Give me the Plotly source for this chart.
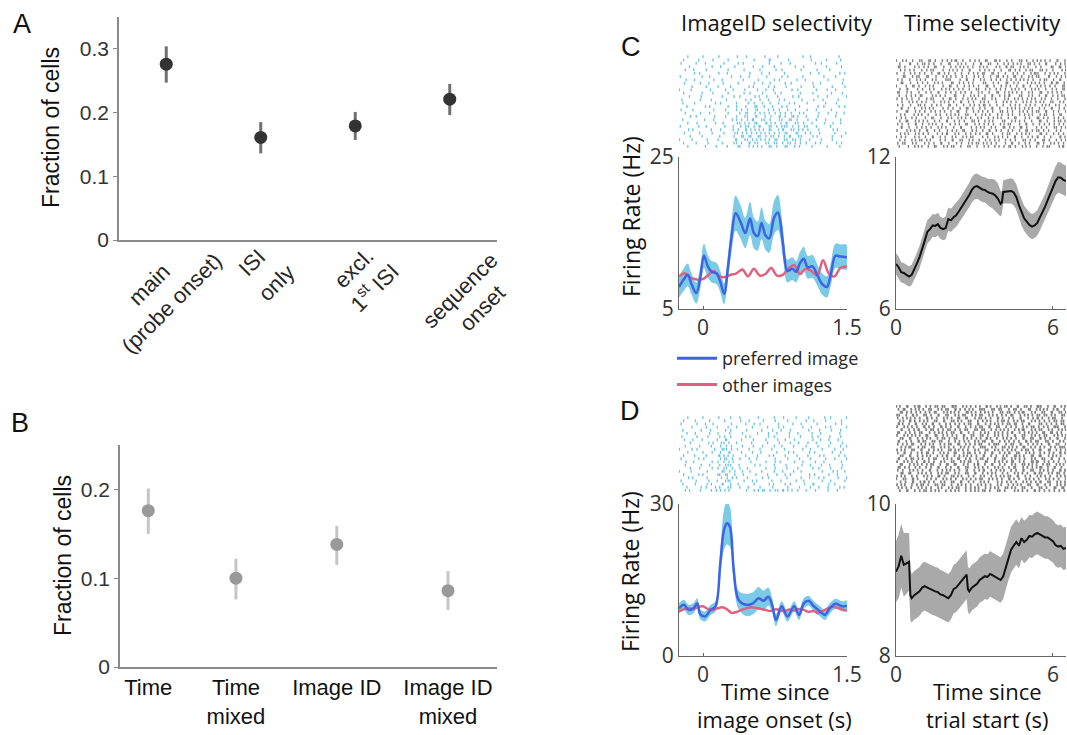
import plotly.graph_objects as go

W, H = 1067, 735

# ---------------- Panel A data ----------------
a_labels = ["main<br>(probe onset)", "ISI<br>only", "excl.<br>1<sup>st</sup> ISI", "sequence<br>onset"]
a_x = [1, 2, 3, 4]
a_val = [0.276, 0.161, 0.179, 0.221]
a_hi = [0.304, 0.185, 0.201, 0.245]
a_lo = [0.247, 0.136, 0.157, 0.196]

# ---------------- Panel B data ----------------
b_labels = ["Time", "Time<br>mixed", "Image ID", "Image ID<br>mixed"]
b_x = [0.80, 1.73, 2.80, 3.98]
b_val = [0.176, 0.100, 0.138, 0.086]
b_hi = [0.201, 0.122, 0.159, 0.108]
b_lo = [0.150, 0.076, 0.115, 0.064]

# ---------------- Panel C, image selectivity ----------------
c_pref_t = [-0.25, -0.2, -0.16, -0.12, -0.07, -0.03, 0.01, 0.05, 0.09, 0.14, 0.18, 0.22, 0.26, 0.30,
            0.34, 0.39, 0.44, 0.49, 0.53, 0.57, 0.61, 0.65, 0.69, 0.74, 0.78, 0.83, 0.88, 0.93, 0.97,
            1.01, 1.05, 1.09, 1.14, 1.19, 1.24, 1.29, 1.33, 1.38, 1.43, 1.5]
c_pref_v = [7.9, 8.9, 9.5, 8.3, 7.1, 9.0, 12.0, 10.6, 9.9, 9.7, 8.6, 7.0, 10.5, 14.8,
            17.6, 16.5, 15.0, 16.9, 15.0, 14.6, 16.3, 14.7, 14.3, 17.0, 17.7, 14.0, 10.0, 10.3, 9.9,
            11.0, 11.6, 10.5, 10.6, 9.5, 8.3, 7.9, 9.5, 12.0, 11.9, 11.8]
c_pref_sem = [1.4, 1.5, 1.5, 1.4, 1.4, 1.5, 1.6, 1.5, 1.4, 1.4, 1.4, 1.4, 1.6, 2.0,
              2.3, 2.2, 2.0, 2.2, 2.0, 1.9, 2.1, 1.9, 1.9, 2.2, 2.3, 2.0, 1.5, 1.5, 1.4,
              1.5, 1.6, 1.5, 1.5, 1.4, 1.4, 1.4, 1.5, 1.6, 1.6, 1.6]
c_other_t = [-0.25, -0.19, -0.13, -0.07, -0.01, 0.05, 0.11, 0.17, 0.23, 0.29, 0.35, 0.41, 0.47, 0.53,
             0.59, 0.65, 0.71, 0.77, 0.83, 0.89, 0.95, 1.01, 1.07, 1.13, 1.19, 1.25, 1.31, 1.37, 1.43, 1.5]
c_other_v = [9.3, 9.7, 9.1, 8.9, 8.9, 9.4, 10.0, 9.3, 9.2, 9.5, 9.7, 10.2, 9.3, 10.3,
             9.4, 9.6, 10.4, 9.4, 9.5, 10.3, 10.8, 9.6, 10.3, 10.0, 9.4, 11.4, 9.7, 9.3, 10.4, 10.6]

# ---------------- Panel C, time selectivity ----------------
c_time_t = [0, 0.1, 0.2, 0.3, 0.4, 0.5, 0.6, 0.7, 0.8, 0.9, 1.0, 1.1, 1.2, 1.3, 1.4, 1.5, 1.6, 1.7, 1.8,
            1.9, 2.0, 2.1, 2.2, 2.3, 2.4, 2.5, 2.6, 2.7, 2.8, 2.9, 3.0, 3.1, 3.2, 3.3, 3.4, 3.5, 3.6,
            3.7, 3.8, 3.9, 4.0, 4.05, 4.1, 4.2, 4.3, 4.4, 4.5, 4.6, 4.7, 4.8, 4.9, 5.0, 5.1, 5.2, 5.3,
            5.4, 5.5, 5.6, 5.7, 5.8, 5.9, 6.0, 6.1, 6.2, 6.3, 6.4, 6.5]
c_time_v = [7.78, 7.65, 7.45, 7.42, 7.35, 7.28, 7.35, 7.55, 7.8, 8.05, 8.35, 8.7, 9.05, 9.15, 9.3, 9.28,
            9.35, 9.2, 9.15, 9.2, 9.55, 9.5, 9.62, 9.7, 9.85, 10.0, 10.15, 10.35, 10.5, 10.7, 10.82,
            10.85, 10.78, 10.72, 10.7, 10.62, 10.58, 10.55, 10.48, 10.35, 10.15, 10.2, 10.62, 10.63,
            10.66, 10.66, 10.6, 10.42, 10.1, 9.8, 9.58, 9.45, 9.32, 9.25, 9.3, 9.4, 9.6, 9.8, 10.04,
            10.3, 10.55, 10.83, 11.05, 11.2, 11.18, 11.1, 11.05]
c_time_sem = [0.42, 0.42, 0.4, 0.4, 0.4, 0.4, 0.4, 0.42, 0.42, 0.44, 0.45, 0.46, 0.46, 0.46, 0.45,
              0.45, 0.45, 0.44, 0.44, 0.45, 0.46, 0.46, 0.46, 0.46, 0.47, 0.47, 0.48, 0.48, 0.48,
              0.5, 0.5, 0.5, 0.5, 0.5, 0.5, 0.52, 0.55, 0.58, 0.6, 0.6, 0.5, 0.45, 0.46, 0.48, 0.5,
              0.5, 0.5, 0.5, 0.5, 0.5, 0.5, 0.5, 0.5, 0.5, 0.5, 0.5, 0.5, 0.5, 0.5, 0.52, 0.54,
              0.56, 0.58, 0.6, 0.6, 0.6, 0.6]

# ---------------- Panel D, image selectivity ----------------
d_pref_t = [-0.25, -0.2, -0.15, -0.1, -0.06, -0.03, 0.02, 0.08, 0.13, 0.18, 0.22, 0.25, 0.28, 0.32,
            0.37, 0.45, 0.52, 0.58, 0.63, 0.68, 0.72, 0.76, 0.82, 0.88, 0.95, 1.0, 1.05, 1.1, 1.15,
            1.22, 1.27, 1.32, 1.38, 1.45, 1.5]
d_pref_v = [9.4, 10.1, 9.1, 9.4, 10.4, 8.3, 7.8, 9.1, 9.8, 18.3, 25.0, 26.2, 25.5, 17.0,
            11.1, 10.1, 10.4, 11.4, 10.9, 11.7, 10.1, 7.1, 9.8, 7.8, 9.8, 8.1, 10.4, 10.9, 9.9,
            8.8, 8.1, 9.4, 10.3, 9.8, 9.9]
d_pref_sem = [1.0, 1.0, 1.0, 1.0, 1.0, 1.0, 1.0, 1.0, 1.0, 2.5, 4.0, 4.2, 4.0, 2.5,
              1.8, 2.2, 2.2, 2.2, 2.0, 1.8, 1.4, 1.2, 1.0, 1.0, 1.0, 1.0, 1.0, 1.0, 1.0,
              1.0, 1.0, 1.0, 1.0, 1.0, 1.0]
d_other_t = [-0.25, -0.2, -0.15, -0.1, -0.05, 0.0, 0.05, 0.1, 0.15, 0.2, 0.25, 0.3, 0.35, 0.4, 0.45,
             0.5, 0.55, 0.6, 0.65, 0.7, 0.75, 0.8, 0.85, 0.9, 0.95, 1.0, 1.05, 1.1, 1.15, 1.2, 1.25,
             1.3, 1.35, 1.4, 1.45, 1.5]
d_other_v = [8.8, 9.2, 9.4, 9.3, 9.7, 9.8, 9.3, 9.1, 9.4, 9.6, 9.2, 8.5, 8.7, 9.1, 9.4,
             9.6, 9.5, 9.3, 9.1, 8.9, 9.2, 9.1, 8.8, 9.2, 9.0, 9.3, 9.1, 8.7, 8.9, 8.5, 8.9,
             9.4, 9.7, 9.5, 9.2, 9.0]

# ---------------- Panel D, time selectivity ----------------
d_time_t = [0, 0.1, 0.2, 0.3, 0.4, 0.5, 0.55, 0.6, 0.7, 0.8, 0.9, 1.0, 1.1, 1.2, 1.3, 1.4, 1.5, 1.6,
            1.7, 1.8, 1.9, 2.0, 2.1, 2.2, 2.3, 2.4, 2.5, 2.6, 2.7, 2.75, 2.8, 2.9, 3.0, 3.1, 3.2, 3.3,
            3.4, 3.5, 3.6, 3.7, 3.8, 3.9, 4.0, 4.1, 4.2, 4.3, 4.4, 4.5, 4.6, 4.7, 4.8, 4.9, 5.0,
            5.1, 5.2, 5.3, 5.4, 5.5, 5.6, 5.7, 5.8, 5.9, 6.0, 6.1, 6.2, 6.3, 6.4, 6.5]
d_time_v = [9.11, 9.18, 9.32, 9.2, 9.22, 9.24, 8.8, 8.76, 8.8, 8.82, 8.85, 8.9, 8.92, 8.9, 8.88,
            8.86, 8.85, 8.84, 8.81, 8.8, 8.78, 8.76, 8.8, 8.88, 8.9, 8.94, 8.98, 9.02, 9.07, 8.88,
            8.85, 8.9, 8.92, 8.95, 9.0, 9.02, 9.05, 9.04, 9.08, 9.06, 9.04, 9.02, 9.0, 9.05, 9.16,
            9.3, 9.4, 9.45, 9.5, 9.45, 9.55, 9.5, 9.53, 9.58, 9.57, 9.6, 9.62, 9.6, 9.58, 9.56,
            9.56, 9.53, 9.51, 9.46, 9.44, 9.45, 9.41, 9.42]
d_time_sem = [0.4, 0.42, 0.42, 0.42, 0.4, 0.38, 0.34, 0.32, 0.32, 0.32, 0.32, 0.32, 0.32, 0.32,
              0.32, 0.32, 0.32, 0.32, 0.32, 0.32, 0.32, 0.32, 0.32, 0.32, 0.32, 0.32, 0.32, 0.32,
              0.32, 0.3, 0.3, 0.3, 0.3, 0.3, 0.3, 0.3, 0.3, 0.3, 0.3, 0.3, 0.3, 0.3, 0.3, 0.3, 0.3,
              0.3, 0.3, 0.3, 0.3, 0.3, 0.28, 0.28, 0.28, 0.28, 0.28, 0.28, 0.28, 0.28, 0.28, 0.28,
              0.28, 0.28, 0.28, 0.28, 0.28, 0.28, 0.28, 0.28]

# ---------------- Spike rasters ----------------
# one string per trial; each character is a time bin: '.' = no spike,
# '1'..'4' = spike in the 1st..4th quarter of that bin (spaces only group bins)
c_img_raster = [
    "..3....1.. .4.....2.. 1....3...2 ......4..1 .......3..",
    ".2...4.... 1...3..... ..2...41.. ..3......2 ...4....1.",
    "3....1.4.. ...2...3.1 ......4... 2..1...... 3.2...4...",
    "...1.....4 ..2...3... ..1.4...2. ....3..1.. ...4....2.",
    ".4..2...1. ....3....2 ....1...4. 3.....2... .1..4.....",
    "....3.1... .4..2..... .1..3.4... .2.......1 .3.....4.2",
    "2.....4..1 .....3..2. 4.....1... 3.2...4... ...1..3...",
    "..1.3..... 2.4......1 ...3....24 .....1.3.. ....2...4.",
    ".3....2.4. ...1...3.. ..2.4..1.. .3.2.....4 ..1.....3.",
    "...4....1. .3...2.... 4.1...3.2. .4....2... 1....3...2",
    "1..3.....2 ...4..1..3 ...2.4..1. ...3.2.... 4...1.3...",
    ".2....4... 1...3....2 .1..4...3. 2.....1..4 .....2..3.",
    "...1..3... ..4...2.1. ..34..1..2 ...4.3.... .2..1....4",
    "4.....2..3 ....1....4 .2..1.3..4 .2....3... 1.4....2..",
    ".1..3..... 4.2....1.. 3.2.4..1.3 ..4.2...1. ...3..4...",
    "..2....4.1 ....3..1.4 ..31.2.4.. 3.1..4.... .2.1...3.2",
    "3...1..... 2..4...13. 2.42..3.14 ..2.3...1. 4....2....",
    ".4....2..1 ....3...14 2.3.124.3. 13.2.4.1.. .3..2.4..1",
    "...2.1.... 3..4...1.3 2.41.3.2.4 13.312.4.. .2....3...",
    ".1.....3.. 2....4.13. 241.32.1.4 3.42.1..2. 4..3....1.",
    "..3..2.... 4..1...213 4.31.4123. 241.32.1.3 ...2.4..1.",
    "2....4..1. ...3..1.24 3.241.42.1 3214.3.21. 4....1....",
    "..4.1....3 ..2...13.4 1234.142.3 41.2134.2. .3...4.1..",
    ".3....1..4 ...2..324. 13.1234.24 .31.42.3.1 .4....2..3",
    "...2..4... ..1...2.31 42.314.213 .241.32..4 .1...3..2.",
    "1..4....2. .3....41.3 24.1234.31 .2143.1.4. ..2..3....",
    ".2...1..3. ..4...213. 4132.43.21 4.213.14.. 3.1...4.2.",
    "..3....4.. .1..2..31. 4.123.42.1 .31.24...3 ....1..4..",
]

c_time_raster = [
    "1.23.4..21 .314..2.13 42.3..14.2 .31.423..1 4..32.1.24 .13.2.41.3",
    ".2..41.3.2 13.2.4..31 .4.13..2.4 1.32.4..13 .24.1.324. 3.41..2.13",
    "42.1..3.14 .2.31.4..2 .134.2.1.3 4.1..23.41 32.4.13..2 .1..42.314",
    ".3.14.2..1 4.21..3.4. 13.2.41..3 .24.3..1.4 2.13.4.21. 43.1.2..34",
    "2.4..13.2. 1.3.42.13. 4..1.3.24. 31.42.1.3. .24..1.342 1.3.24.1.3",
    "..31.4.21. 42..1.34.2 .1.24..3.1 4..2.314.2 .31.2.4.13 2..41.3.24",
    "3.1.4..23. 2.4.1..321 ..3.41.2.4 .1.3.24..1 3.24.13.2. 4.21.3.41.",
    ".42..1.3.2 .1.34.2..3 1.24.3.1.. 43..2.1.42 .3.1..24.1 3.2.4131.2",
    "1..3.42.1. 24.1..3.42 .3..14.2.1 .42.3..14. 2.3.41.2.4 .13.2.1.42",
    ".2.41..3.2 .4.2..134. 2.13.4..21 .3.1.24.3. 4.12.3.4.1 2.4..13.42",
    "31.4.2..1. 3.2.41.3.2 .14.2.3..1 2.4..31.24 .13.2.4.1. 42.3.14.2.",
    ".1.3.24.31 ..4.13.2.. 31.4..23.1 .2.41.3.24 1..32.4.1. 3.41.2.132",
    "2.14.3..1. 4.21..3.42 .1.3.24.1. 32.4.1..23 .4.13.24.1 .23.4..1.3",
    "..1.34.2.1 3..2.4.13. 2.41.3.2.4 .13..2.4.1 3.2.4.13.2 4.1.32.4.1",
    "3.2..1.43. 1.3.24..31 .2.4..13.2 42.1.3.4.. 2.13.4.2.1 .34.1.23.4",
    ".41.2.3..1 24.1..3.2. 1.3.42.1.3 .2.41.3..2 4.13.24.1. 3.2.41.3.2",
    "2..31.4.2. 1.24.3.1.2 .31.4..2.1 3.2.1.43.2 .1.34.2.13 2.41.3.2.4",
    ".3.1..24.1 .2..13.4.2 4.1.32..1. 23.1.4.2.3 .1.3.24.1. 4.21.3.42.",
    "14.2.3.1.. 2.31.4..23 .4.13.2.4. 1.3.24.1.3 .42..3.1.4 2.13.4.2.1",
    ".2.31.4.13 .1.3.2.41. 3.2.1.43.1 .24.1..32. 4.13.2.4.. 31.2.4.213",
    "3.1.2.41.2 .34.1.2..1 4.2.31.4.2 .13.2.4.13 2..3.41.2. 3.2.14.3.1",
    ".41.3..2.1 3.2.4.13.. 2.41..3.24 .1.3.1.42. 13.42.1..3 .2.1.43.24",
    "2..4.13.2. 41.3.2..14 .2.31.4.2. 3.41.2.1.3 .1.3.42.13 2.14..3.1.",
    ".3.12.4.13 .2..3.241. 4.1.3.2.13 .42.1..3.2 1.3.24.1.. 42.1.3.2.1",
    "14.2..3.1. 2.41.3.2.4 .1.34.21.. 3.2.4.13.2 .41.2.3.14 1.2.3..413",
    ".2.1.34.21 4.1..3.2.4 1.32.4.1.2 .3.14.2.3. 2.1.43.2.1 .42.1.3.24",
    "3.21.4.1.. 13.2.41.3. .2.1.34.21 4.13.2..3. 41.2.3.1.4 2.1.34.2.1",
    ".1..2.34.1 .2.31.4.13 2.4..21.3. .13.4.2.14 2.1.34.2.3 .4.21..341",
]

d_img_raster = [
    "..3....1.. .4...2..1. ...3....2. .1..4...3. ...2.1...4",
    ".2..4....1 ...3....2. 4....1..3. ..2....4.. 1..3....2.",
    "3....2.4.. 1....3...4 ..2.1....3 ...4..2... .1....3.2.",
    "...4....1. .2..3..1.. .4....2..3 .1....4..2 ...3.1...4",
    ".1....3..2 ...4.2.... 1...3..4.. 2..1....3. .4...2..1.",
    "..2.4....1 .3...1..4. ...2..3..1 ..4..2...3 ..1....4..",
    "4....2..3. ..13.2...4 .1....3.2. ..4...1..3 .2..4...1.",
    ".3..1.4... .2.41...3. ..1..4...2 .3..2....4 ..1.3..2..",
    "...2....4. 1.324..1.. .3....2..4 ...1.3..2. 4....1..3.",
    ".4....1..3 ..2.13..4. ..1.4...2. 3...1..4.. .2..3...14",
    "1..4.2.... 3.4213.2.. 4...1..3.. .2....4..1 ..3...2.4.",
    "..3....1.4 ..2.41..3. .4..2....1 ..3.1...4. 2....3..1.",
    ".2..3...1. .4123.1..4 ...2..4.1. .3...1..2. .4.1...3.2",
    "3....4.2.. ..2314..1. 4..1....3. ..2..4...1 ...3..2..4",
    "..1.2....4 .3.24.1... .2...4..3. 1...2.4... 3..1....2.",
    ".4....3..1 ..1432.4.. ..3.1...2. .4....3..1 ..2.4...3.",
    "...2..1..4 .3.214..1. 2....4..3. ..1..2...4 .3...1..2.",
    "1..3....2. ..42.13.4. .1..3...2. 4...1.2... ..3..4.1.2",
    ".2...4.1.. .3142.3..1 ..4...2..1 .3.1....4. 2...3..1..",
    "..4.1...2. ..3.24.1.. 2...4.3... ..1...2.4. .3.1...2.4",
    "3....1..4. .2.431...2 .4.1...3.. 2...4..1.. ..3..1...2",
    ".1..4...23 ..41.2.3.. ..2...4.1. .3.1...2.4 1...3.2...",
    "..2...3.1. 4.1.32..1. 3...1..4.. ..2..4...1 .3..2..4.1",
    ".4.1..2..3 .1234..... 1.2342.132 4123.2.4.. 3...2..1..",
]

d_time_raster = [
    "12.41.342. 3.143.21.4 21.34.2.13 .412.34.21 3.41.213.4 21.3.41.23",
    "4.31.24.13 .32.4.132. 413.24.1.3 21.43.21.4 .32.1.42.3 4.12.341.2",
    ".314.2.13. 24.31.4.12 3.1.423.14 .23.1.43.2 14.231.4.1 .32.41.324",
    "21.3.412.4 3.2.41.32. 4.132.4.13 2.4.13.24. 31.4.23.14 3.214.1.32",
    "3.24.13.2. 413.2.4.13 .42.31.4.2 13.2.413.4 .2.41.3.24 13.4.21.3.",
    ".23.413.24 .1.32.41.3 24.1.32.4. 3.12.4.213 .34.21.4.1 3.2.143.21",
    "412.3.41.2 3.41.2.3.1 4.2.132.41 .3.24.13.2 142.3.41.. 32.14.3.21",
    "2.4.13.2.4 13.2.413.2 .41.3.2.13 2.41.32.4. 3.2.4.143. 2.13.421.3",
    ".41.3.241. 3.214.3.21 4.3.21.43. 21.3.24.13 .4.231.4.1 32.4.1.234",
    "31.24.3.21 .4.3.124.3 2.41.3.2.4 .23.4.13.2 41.3.24.13 .42.314.2.",
    "2.4.134.2. 31.42.3.14 .2.41.32.4 3.2.4.13.2 .41.32.4.1 3.21.4.134",
    ".32.41.3.2 4.1.3.214. 32.4.13.24 .412.3.4.1 3.2.41.32. 413.2.41.3",
    "41.3.2.413 2.43.21.3. 4.2.13.4.1 32.41.3.24 .3.2.413.2 1.43.2.4.1",
    "3.24.31.4. 24.1.3.132 .42.3.14.2 1.4.321.4. 32.41.3.24 .2.41.32.4",
    ".4.231.4.2 1.32.4.13. 2.4.13.2.4 32.4.1.324 .13.42.3.1 4.2.3.1432",
    "24.1.32.41 .3.24.1.32 4.13.2.4.1 .32.4.13.2 4.1.243.2. 31.42.3.14",
    "3.41.2.3.1 42.1.34.2. 31.4.214.3 .2.41.3.24 1.32.4.13. 4.2.13.413",
    ".32.41.3.2 4.1.3.241. 3.24.13.2. 41.3.2.4.1 .423.1.42. 31.4.23.1.",
    "41.3.214.2 .3.21.4.13 .42.3.1.24 3.2.41.32. 4.13.2.4.1 .32.41.3.2",
    "2.4.13.2.4 13.2.4.1.3 2.4.132.4. .31.4.23.1 42.3.1.423 1.24.3.2.4",
    ".31.4.23.1 4.21.3.42. 31.4.2.341 .2.41.3.2. 4.1.324.13 .4.21.34.1",
    "42.13.4.2. 3.2.41.3.2 .41.32.4.1 3.2.4.13.4 .31.4.2.13 42.3.41.2.",
    "3.2.4.13.2 .41.3.24.1 3.2.41.3.2 41.3.24.1. 3.2.41.32. 4.13.2.413",
    ".42.31.4.1 3.2.4.132. 4.1.32.41. 3.24.1.3.2 .4.13.2.41 32.4.143.2",
    "24.1.3.2.4 .13.42.1.3 24.1.3.2.4 .1.3.24.13 2.41.3.2.4 .13.2.4.13",
    "1.32.413.. 4.2.1.34.2 .1.34.2.13 2.4.13.2.4 13.2.4.13. 2.4.13.2.4",
    ".3.2.41.34 13.2.4.1.3 2.41.3.2.4 .13..4.2.1 3.2.4.13.2 41.32.4.13",
    "24.1.3.243 .2.43.21.3 .4.13.2.4. 13.2.4.1.3 .24.1.32.4 1.3.2.4.13",
    "4.13.2.4.1 3.2.4.1.34 .21.3.24.1 .3.24.1.32 4.1.32.4.. 32.1.42.31",
    ".2.41.3.24 3.24.1.3.2 4.1.3.24.1 32.1.43.2. .4.13.2.41 3.2.14.3.2",
]

IMG_RANGE = [-0.25, 1.5]
TIME_RANGE = [0, 6.5]

# ---------------- Colours / fonts ----------------
RASTER_BLUE = "#69c3e2"
BAND_BLUE = "#7ccbe6"
LINE_BLUE = "#3c64e4"
LINE_PINK = "#e0607f"
BAND_GRAY = "#a9a9a9"
RASTER_GRAY = "#7f7f7f"
ARIAL = "Liberation Sans, Arial, sans-serif"
OPEN = "Open Sans, DejaVu Sans, sans-serif"

# placement of each (rotated) line of the panel-A category labels:
# pixel offset from the category position, and pixel row of the line centre
a_line_dx = [[-17, 5], [-9, 15], [-2, 18], [10, 32]]
a_line_py = [[284, 303], [262, 283], [268, 287], [290, 308]]


def xd(a, b):
    return [a / W, b / W]


def yd(top, bottom):
    return [1 - bottom / H, 1 - top / H]


def raster_xy(rows, t0, t1):
    rows = [r.replace(" ", "") for r in rows]
    xs, ys = [], []
    for i, r in enumerate(rows):
        bw = (t1 - t0) / len(r)
        for j, ch in enumerate(r):
            if ch in "1234":
                xs.append(t0 + (j + (int(ch) - 0.5) / 4) * bw)
                ys.append(i)
    return xs, ys, len(rows)


fig = go.Figure()

# ---- Panel A ----
fig.add_trace(go.Scatter(
    x=a_x, y=a_val, mode="markers", xaxis="x", yaxis="y",
    marker=dict(size=13, color="#333333"),
    error_y=dict(type="data", symmetric=False,
                 array=[h - v for h, v in zip(a_hi, a_val)],
                 arrayminus=[v - l for v, l in zip(a_val, a_lo)],
                 color="#707070", thickness=3, width=0),
    showlegend=False))

# ---- Panel B ----
fig.add_trace(go.Scatter(
    x=b_x, y=b_val, mode="markers", xaxis="x2", yaxis="y2",
    marker=dict(size=13, color="#999999"),
    error_y=dict(type="data", symmetric=False,
                 array=[h - v for h, v in zip(b_hi, b_val)],
                 arrayminus=[v - l for v, l in zip(b_val, b_lo)],
                 color="#c6c6c6", thickness=3, width=0),
    showlegend=False))


def add_raster(rows, rng, color, xa, ya, lw):
    xs, ys, n = raster_xy(rows, rng[0], rng[1])
    fig.add_trace(go.Scatter(
        x=xs, y=ys, mode="markers", xaxis=xa, yaxis=ya,
        marker=dict(symbol="line-ns", size=2, line=dict(width=lw, color=color)),
        showlegend=False, hoverinfo="skip"))
    return n


def add_band(t, v, s, color, xa, ya, shape):
    up = [a + b for a, b in zip(v, s)]
    lo = [a - b for a, b in zip(v, s)]
    fig.add_trace(go.Scatter(
        x=list(t) + list(t[::-1]), y=up + lo[::-1], fill="toself", fillcolor=color,
        line=dict(width=0, shape=shape), mode="lines", xaxis=xa, yaxis=ya,
        showlegend=False, hoverinfo="skip"))


def add_line(t, v, color, xa, ya, shape, name=None, width=2.5):
    fig.add_trace(go.Scatter(
        x=t, y=v, mode="lines", xaxis=xa, yaxis=ya,
        line=dict(color=color, width=width, shape=shape),
        name=name, showlegend=name is not None))


# ---- Panel C ----
n_c1 = add_raster(c_img_raster, IMG_RANGE, RASTER_BLUE, "x3", "y3", 1.3)
add_band(c_pref_t, c_pref_v, c_pref_sem, BAND_BLUE, "x4", "y4", "spline")
add_line(c_other_t, c_other_v, LINE_PINK, "x4", "y4", "spline")
add_line(c_pref_t, c_pref_v, LINE_BLUE, "x4", "y4", "spline")
n_c2 = add_raster(c_time_raster, TIME_RANGE, RASTER_GRAY, "x5", "y5", 1.4)
add_band(c_time_t, c_time_v, c_time_sem, BAND_GRAY, "x6", "y6", "linear")
add_line(c_time_t, c_time_v, "#111111", "x6", "y6", "linear", width=2)

# ---- Panel D ----
n_d1 = add_raster(d_img_raster, IMG_RANGE, RASTER_BLUE, "x7", "y7", 1.3)
add_band(d_pref_t, d_pref_v, d_pref_sem, BAND_BLUE, "x8", "y8", "spline")
add_line(d_other_t, d_other_v, LINE_PINK, "x8", "y8", "spline")
add_line(d_pref_t, d_pref_v, LINE_BLUE, "x8", "y8", "spline")
n_d2 = add_raster(d_time_raster, TIME_RANGE, RASTER_GRAY, "x9", "y9", 1.7)
add_band(d_time_t, d_time_v, d_time_sem, BAND_GRAY, "x10", "y10", "linear")
add_line(d_time_t, d_time_v, "#111111", "x10", "y10", "linear", width=2)

# legend entries (dummy lines carrying names)
fig.add_trace(go.Scatter(x=[None], y=[None], mode="lines", xaxis="x4", yaxis="y4",
                         line=dict(color=LINE_BLUE, width=3), name="preferred image"))
fig.add_trace(go.Scatter(x=[None], y=[None], mode="lines", xaxis="x4", yaxis="y4",
                         line=dict(color=LINE_PINK, width=3), name="other images"))

ab_common = dict(showgrid=False, zeroline=False, showline=True, linecolor="#8a8a8a", linewidth=1.5,
                 automargin=False)
psth_common = dict(showgrid=False, zeroline=False, showline=True, linecolor="#666666", linewidth=1.2,
                   ticks="inside", ticklen=3, tickcolor="#666666", automargin=False,
                   tickfont=dict(family=OPEN, size=21, color="#333333"))
hidden = dict(visible=False, showgrid=False, zeroline=False, automargin=False)

layout = dict(
    width=W, height=H, margin=dict(l=0, r=0, t=0, b=0, autoexpand=False),
    paper_bgcolor="white", plot_bgcolor="rgba(0,0,0,0)",
    showlegend=True,
    legend=dict(x=672 / W, y=1 - 340 / H, xanchor="left", yanchor="top",
                font=dict(family=OPEN, size=18, color="#262626"),
                bgcolor="rgba(0,0,0,0)", tracegroupgap=0, itemwidth=40),
    # A
    xaxis=dict(domain=xd(119, 497), anchor="y", range=[0.5, 4.5], tickmode="array",
               tickvals=a_x, showticklabels=False, ticks="", **ab_common),
    yaxis=dict(domain=yd(17, 240), anchor="x", range=[0, 0.35], tickmode="array",
               tickvals=[0, 0.1, 0.2, 0.3], ticktext=["0", "0.1", "0.2", "0.3"],
               ticks="outside", ticklen=4, tickcolor="#8a8a8a",
               tickfont=dict(family=ARIAL, size=21, color="#333333"), **ab_common),
    # B
    xaxis2=dict(domain=xd(120, 497), anchor="y2", range=[0.5, 4.5], tickmode="array",
                tickvals=b_x, ticktext=b_labels, ticks="",
                tickfont=dict(family=ARIAL, size=22, color="#111111"), **ab_common),
    yaxis2=dict(domain=yd(445, 667), anchor="x2", range=[0, 0.25], tickmode="array",
                tickvals=[0, 0.1, 0.2], ticktext=["0", "0.1", "0.2"],
                ticks="outside", ticklen=4, tickcolor="#8a8a8a",
                tickfont=dict(family=ARIAL, size=21, color="#333333"), **ab_common),
    # C rasters / PSTHs
    xaxis3=dict(domain=xd(679, 847), anchor="y3", range=IMG_RANGE, **hidden),
    yaxis3=dict(domain=yd(55, 148), anchor="x3", range=[n_c1 - 0.5, -0.5], **hidden),
    xaxis4=dict(domain=xd(679, 847), anchor="y4", range=IMG_RANGE, tickmode="array",
                tickvals=[0, 1.5], ticktext=["0", "1.5"], **psth_common),
    yaxis4=dict(domain=yd(157, 309), anchor="x4", range=[5, 25], tickmode="array",
                tickvals=[5, 25], ticktext=["5", "25"], **psth_common),
    xaxis5=dict(domain=xd(896, 1066), anchor="y5", range=TIME_RANGE, **hidden),
    yaxis5=dict(domain=yd(59, 148), anchor="x5", range=[n_c2 - 0.5, -0.5], **hidden),
    xaxis6=dict(domain=xd(896, 1066), anchor="y6", range=TIME_RANGE, tickmode="array",
                tickvals=[0, 6], ticktext=["0", "6"], **psth_common),
    yaxis6=dict(domain=yd(157, 309), anchor="x6", range=[6, 12], tickmode="array",
                tickvals=[6, 12], ticktext=["6", "12"], **psth_common),
    # D rasters / PSTHs
    xaxis7=dict(domain=xd(679, 847), anchor="y7", range=IMG_RANGE, **hidden),
    yaxis7=dict(domain=yd(416, 492), anchor="x7", range=[n_d1 - 0.5, -0.5], **hidden),
    xaxis8=dict(domain=xd(679, 847), anchor="y8", range=IMG_RANGE, tickmode="array",
                tickvals=[0, 1.5], ticktext=["0", "1.5"], **psth_common),
    yaxis8=dict(domain=yd(504, 656), anchor="x8", range=[0, 30], tickmode="array",
                tickvals=[0, 30], ticktext=["0", "30"], **psth_common),
    xaxis9=dict(domain=xd(896, 1066), anchor="y9", range=TIME_RANGE, **hidden),
    yaxis9=dict(domain=yd(405, 492), anchor="x9", range=[n_d2 - 0.5, -0.5], **hidden),
    xaxis10=dict(domain=xd(896, 1066), anchor="y10", range=TIME_RANGE, tickmode="array",
                 tickvals=[0, 6], ticktext=["0", "6"], **psth_common),
    yaxis10=dict(domain=yd(504, 656), anchor="x10", range=[8, 10], tickmode="array",
                 tickvals=[8, 10], ticktext=["8", "10"], **psth_common),
)
fig.update_layout(**layout)


def ann(text, x, y, size, family, color="#111111", angle=0):
    fig.add_annotation(text=text, x=x / W, y=1 - y / H, xref="paper", yref="paper",
                       showarrow=False, xanchor="center", yanchor="middle",
                       font=dict(family=family, size=size, color=color), textangle=angle)


# rotated category labels of panel A, one annotation per text line
for xv, lab, dxs, pys in zip(a_x, a_labels, a_line_dx, a_line_py):
    for line, dx, py in zip(lab.split("<br>"), dxs, pys):
        fig.add_annotation(text=line, x=xv, xref="x", y=1 - py / H, yref="paper", xshift=dx,
                           showarrow=False, xanchor="center", yanchor="middle", textangle=-45,
                           font=dict(family=ARIAL, size=22, color="#262626"))

# panel letters
ann("A", 22, 24, 27, ARIAL)
ann("B", 20, 423, 27, ARIAL)
ann("C", 631, 47, 27, ARIAL)
ann("D", 630, 411, 27, ARIAL)
# axis titles
ann("Fraction of cells", 51, 128, 23, ARIAL, "#111111", -90)
ann("Fraction of cells", 63, 556, 23, ARIAL, "#111111", -90)
ann("Firing Rate (Hz)", 631, 217, 23, OPEN, "#111111", -90)
ann("Firing Rate (Hz)", 630, 572, 23, OPEN, "#111111", -90)
ann("ImageID selectivity", 777, 22, 22, OPEN)
ann("Time selectivity", 982, 22, 22, OPEN)
ann("Time since", 775, 691, 22, OPEN)
ann("image onset (s)", 774, 719, 22, OPEN)
ann("Time since", 987, 691, 22, OPEN)
ann("trial start (s)", 987, 719, 22, OPEN)

fig.write_html("out.html", config={"displayModeBar": False},
               post_script="document.body.style.margin='0px';")
